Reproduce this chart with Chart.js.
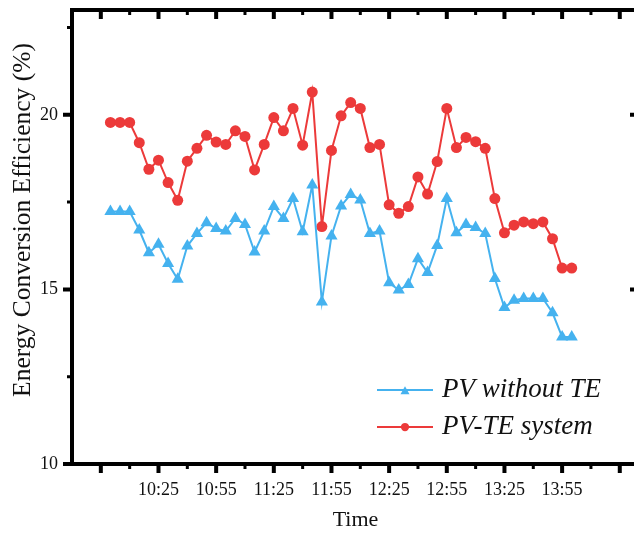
<!DOCTYPE html>
<html>
<head>
<meta charset="utf-8">
<script src="https://cdn.jsdelivr.net/npm/chart.js@4.4.0/dist/chart.umd.min.js"></script>
<style>
  html, body { margin: 0; padding: 0; background: #fff; overflow: hidden; }
  canvas { display: block; }
</style>
</head>
<body>
<canvas id="effChart" width="660" height="535"></canvas>
<script>
// Heures de mesure (un point toutes les 5 min)
const times = ['10:00','10:05','10:10','10:15','10:20','10:25','10:30','10:35','10:40','10:45','10:50','10:55',
               '11:00','11:05','11:10','11:15','11:20','11:25','11:30','11:35','11:40','11:45','11:50','11:55',
               '12:00','12:05','12:10','12:15','12:20','12:25','12:30','12:35','12:40','12:45','12:50','12:55',
               '13:00','13:05','13:10','13:15','13:20','13:25','13:30','13:35','13:40','13:45','13:50','13:55',
               '14:00'];

// Rendement PV seul (%)
const pvWithoutTE = [17.23,17.23,17.23,16.70,16.05,16.29,15.74,15.29,16.24,16.60,16.91,16.74,
                     16.67,17.03,16.86,16.07,16.67,17.37,17.03,17.60,16.65,17.99,14.64,16.53,
                     17.39,17.72,17.56,16.60,16.67,15.19,14.98,15.14,15.88,15.48,16.26,17.60,
                     16.62,16.86,16.77,16.60,15.31,14.48,14.69,14.74,14.74,14.74,14.33,13.64,
                     13.64];

// Rendement du système PV-TE (%)
const pvTeSystem = [19.78,19.78,19.78,19.20,18.44,18.70,18.06,17.55,18.67,19.04,19.41,19.22,
                    19.15,19.54,19.38,18.42,19.15,19.92,19.54,20.18,19.13,20.65,16.80,18.98,
                    19.97,20.35,20.18,19.06,19.15,17.42,17.18,17.37,18.22,17.73,18.66,20.18,
                    19.06,19.35,19.23,19.04,17.60,16.62,16.84,16.93,16.88,16.93,16.45,15.61,
                    15.61];

// Graduations
const xMajorTicks = ['09:55','10:25','10:55','11:25','11:55','12:25','12:55','13:25','13:55','14:25'];
const xTickLabels = ['10:25','10:55','11:25','11:55','12:25','12:55','13:25','13:55'];
const xRange = ['09:40','14:35'];
const yMajorTicks = [10, 15, 20];
const yMinorTicks = [12.5, 17.5, 22.5];
const yRange = [10, 23];

const seriesNames = ['PV without TE', 'PV-TE system'];

const SERIF = "'Liberation Serif', 'Times New Roman', serif";
const BLUE = '#45b2ef';
const RED = '#ec3a3a';

// conversion hh:mm -> minutes
function toMin(s) {
    const [h, m] = s.split(':').map(Number);
    return h * 60 + m;
}

// cadre + graduations sur les quatre côtés (style Origin)
const frameTicks = {
    id: 'frameTicks',
    afterDatasetsDraw(chart) {
        const { ctx, chartArea: a, scales: { x, y } } = chart;
        ctx.save();
        ctx.strokeStyle = '#000';
        ctx.lineWidth = 4;
        ctx.strokeRect(a.left, a.top, a.right - a.left, a.bottom - a.top);

        const majX = xMajorTicks.map(toMin);
        const minX = [];
        for (let i = 0; i < majX.length - 1; i++) minX.push((majX[i] + majX[i + 1]) / 2);

        function vTick(v, len, w) {
            const px = x.getPixelForValue(v);
            ctx.lineWidth = w;
            ctx.beginPath();
            ctx.moveTo(px, a.bottom); ctx.lineTo(px, a.bottom + len);
            ctx.moveTo(px, a.top); ctx.lineTo(px, a.top + len);
            ctx.stroke();
        }
        function hTick(v, len, w) {
            const py = y.getPixelForValue(v);
            ctx.lineWidth = w;
            ctx.beginPath();
            ctx.moveTo(a.left, py); ctx.lineTo(a.left - len, py);
            ctx.moveTo(a.right, py); ctx.lineTo(a.right - len, py);
            ctx.stroke();
        }
        majX.forEach(v => vTick(v, 9, 4));
        minX.forEach(v => vTick(v, 5, 3));
        yMajorTicks.forEach(v => hTick(v, 9, 4));
        yMinorTicks.forEach(v => hTick(v, 5, 3));
        ctx.restore();
    }
};

// légende dans la zone du graphique + titre de l'axe Y
const innerLegend = {
    id: 'innerLegend',
    afterDraw(chart) {
        const { ctx } = chart;
        ctx.save();
        chart.data.datasets.forEach((ds, i) => {
            const ly = 390 + i * 37;
            ctx.strokeStyle = ds.borderColor;
            ctx.lineWidth = ds.borderWidth;
            ctx.beginPath();
            ctx.moveTo(377, ly); ctx.lineTo(433, ly);
            ctx.stroke();
            ctx.fillStyle = ds.pointBackgroundColor;
            Chart.helpers.drawPoint(ctx, {
                pointStyle: ds.pointStyle, radius: ds.pointRadius * 0.75, rotation: 0, borderWidth: 0
            }, 405, ly + (ds.pointStyle === 'triangle' ? 1.5 : 0));
            ctx.fillStyle = '#111';
            ctx.font = 'italic 27px ' + SERIF;
            ctx.textBaseline = 'middle';
            ctx.textAlign = 'left';
            ctx.fillText(ds.label, 442, ly);
        });

        ctx.translate(23, 220);
        ctx.rotate(-Math.PI / 2);
        ctx.font = '25.5px ' + SERIF;
        ctx.fillStyle = '#111';
        ctx.textAlign = 'center';
        ctx.textBaseline = 'middle';
        ctx.fillText('Energy Conversion Efficiency (%)', 0, 0);
        ctx.restore();
    }
};

const xs = times.map(toMin);

new Chart(document.getElementById('effChart'), {
    type: 'line',
    data: {
        datasets: [
            {
                label: seriesNames[0],
                data: xs.map((t, i) => ({ x: t, y: pvWithoutTE[i] })),
                borderColor: BLUE,
                backgroundColor: BLUE,
                pointBackgroundColor: BLUE,
                pointBorderColor: BLUE,
                pointStyle: 'triangle',
                pointRadius: 7,
                pointBorderWidth: 0,
                borderWidth: 2,
                tension: 0
            },
            {
                label: seriesNames[1],
                data: xs.map((t, i) => ({ x: t, y: pvTeSystem[i] })),
                borderColor: RED,
                backgroundColor: RED,
                pointBackgroundColor: RED,
                pointBorderColor: RED,
                pointStyle: 'circle',
                pointRadius: 5.5,
                pointBorderWidth: 0,
                borderWidth: 2,
                tension: 0
            }
        ]
    },
    options: {
        responsive: false,
        animation: false,
        // canevas plus large que la fenêtre : le bord droit du cadre est coupé comme sur l'original
        layout: { padding: { top: 10, right: 21, left: 0, bottom: 0 } },
        plugins: {
            legend: { display: false },
            tooltip: { enabled: false }
        },
        scales: {
            x: {
                type: 'linear',
                min: toMin(xRange[0]),
                max: toMin(xRange[1]),
                afterFit(scale) {
                    scale.height = 71;
                    scale.paddingLeft = 0;
                    scale.paddingRight = 0;
                },
                afterBuildTicks(scale) {
                    scale.ticks = xMajorTicks.map(s => ({ value: toMin(s), label: s }));
                },
                border: { display: false },
                grid: { display: false, drawTicks: false },
                ticks: {
                    padding: 15,
                    color: '#111',
                    font: { family: SERIF, size: 18 },
                    maxRotation: 0,
                    autoSkip: false,
                    callback: function (v) {
                        const lbl = xTickLabels.find(s => toMin(s) === v);
                        return lbl || '';
                    }
                },
                title: {
                    display: true,
                    text: 'Time',
                    color: '#111',
                    font: { family: SERIF, size: 22 },
                    padding: { top: 0, bottom: 2 }
                }
            },
            y: {
                min: yRange[0],
                max: yRange[1],
                afterFit(scale) {
                    scale.width = 72;
                    scale.paddingTop = 0;
                    scale.paddingBottom = 0;
                },
                afterBuildTicks(scale) {
                    scale.ticks = yMajorTicks.map(v => ({ value: v }));
                },
                border: { display: false },
                grid: { display: false, drawTicks: false },
                ticks: {
                    padding: 14,
                    color: '#111',
                    font: { family: SERIF, size: 18 }
                }
            }
        }
    },
    plugins: [frameTicks, innerLegend]
});
</script>
</body>
</html>
